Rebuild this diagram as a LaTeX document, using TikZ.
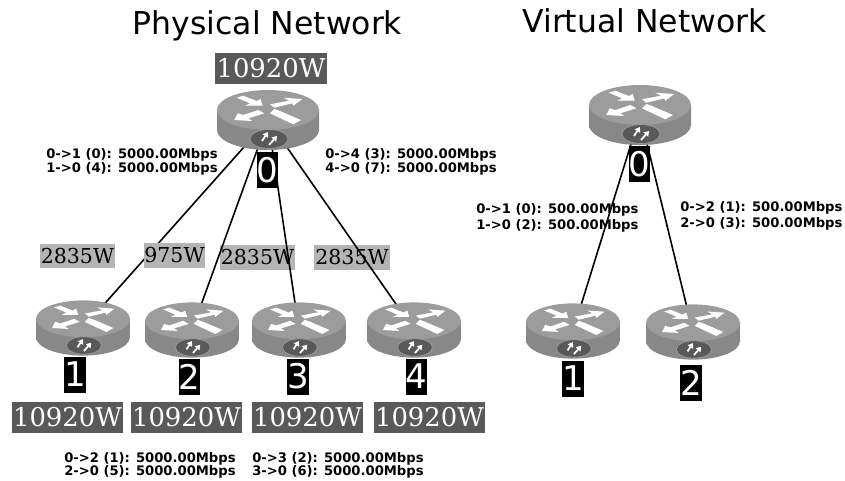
\documentclass[tikz,border=0pt]{standalone}
\usepackage{xcolor}
\usepackage{fontspec}
\usepackage{tikz}
\usetikzlibrary{arrows.meta}
\setmainfont{DejaVu Sans}
\newfontfamily\wattfont{DejaVu Serif}

\definecolor{routertop}{HTML}{9C9C9C}
\definecolor{routerside}{HTML}{6C6C6C}
\definecolor{routeredge}{HTML}{888888}
\definecolor{routerbadge}{HTML}{595959}
\definecolor{nodepower}{HTML}{595959}
\definecolor{linkpower}{HTML}{B4B4B4}

\tikzset{
  hub/.style={circle, inner sep=0pt, minimum size=0pt},
  titletext/.style={font=\fontsize{23.6}{28}\selectfont, inner sep=0pt},
  rate/.style={font=\fontsize{9.85}{10.5}\bfseries\selectfont, align=left, anchor=west, inner sep=0pt},
  nodewatt/.style={fill=nodepower, text=white, font=\wattfont\fontsize{19.4}{22}\selectfont, minimum width=83.5pt, minimum height=23pt, inner sep=0pt},
  linkwatt/.style={fill=linkpower, text=black, font=\wattfont\fontsize{15.4}{18}\selectfont, minimum height=18.5pt, inner sep=0pt},
  routerid/.style={fill=black, text=white, font=\fontsize{25.5}{30}\selectfont, minimum width=15.5pt, minimum height=27pt, inner sep=0pt},
  linkline/.style={draw=black, line width=1.2pt},
  badgetwo/.style={draw=white, line width=1.3pt, -{Triangle[width=4.6pt,length=3.6pt]}},
  routericon/.pic={
    % Body and lid
    \path[left color=routeredge, middle color=routerside, right color=routeredge]
      (-51,10) arc[start angle=180, end angle=0, x radius=51, y radius=20] -- (51,-10) -- (-51,-10) -- cycle;
    \fill[routertop] (0,-10) ellipse[x radius=51, y radius=20];
    % Arrows on the lid
    \fill[white] (-31.3,-22.3) -- (-24.7,-24.3) -- (-11.3,-19) -- (-7.3,-21) -- (-5.3,-14.3) -- (-23,-14.3) -- (-18,-16.7) -- cycle;
    \fill[white] (34.3,-21) -- (15.3,-22.3) -- (21,-19.3) -- (2,-15.7) -- (6.3,-12.3) -- (24.3,-16.7) -- (25.3,-14.3) -- cycle;
    \fill[white] (-33.7,0) -- (-30.3,-6.7) -- (-24.7,-5) -- (-9.7,-10) -- (-3.7,-6.7) -- (-19.7,-1.7) -- (-15.7,1) -- cycle;
    \fill[white] (2,-6.7) -- (6.3,-11) -- (12,-9) -- (33,0) -- (25.3,4.3) -- (7,-4.3) -- (10.3,-2.7) -- cycle;
    % Badge
    \draw[fill=routerbadge, draw=routertop, line width=0.5pt] (1,19) ellipse[x radius=19, y radius=9.5];
    \draw[badgetwo] (-6,21) -- (0,12);
    \draw[badgetwo] (1,25) -- (9,16);
  }
}

\begin{document}
\begin{tikzpicture}[x=0.75pt, y=-0.75pt]
  \useasboundingbox (0,0) rectangle (845,480);

  % Titles
  \node[titletext] (physicaltitle) at (267.5,26) {Physical Network};
  \node[titletext] (virtualtitle) at (644.5,21) {Virtual Network};

  % Link power behind the lines
  \node[linkwatt, minimum width=56.5pt] (watt01) at (77.5,256) {2835W};
  \node[linkwatt, minimum width=56.5pt] (watt02) at (257.5,257.5) {2835W};
  \node[linkwatt, minimum width=56.5pt] (watt03) at (352,257.5) {2835W};

  % Rates
  \node[rate] (rate01) at (46,162) {0->1 (0): 5000.00Mbps\\1->0 (4): 5000.00Mbps};
  \node[rate] (rate04) at (325,162) {0->4 (3): 5000.00Mbps\\4->0 (7): 5000.00Mbps};
  \node[rate] (rate02) at (64,465) {0->2 (1): 5000.00Mbps\\[-0.75pt]2->0 (5): 5000.00Mbps};
  \node[rate] (rate03) at (252,465) {0->3 (2): 5000.00Mbps\\[-0.75pt]3->0 (6): 5000.00Mbps};
  \node[rate] (vrate01) at (476,218) {0->1 (0): 500.00Mbps\\[1.5pt]1->0 (2): 500.00Mbps};
  \node[rate] (vrate02) at (680,216) {0->2 (1): 500.00Mbps\\[1.5pt]2->0 (3): 500.00Mbps};

  % Router positions
  \node[hub] (r0) at (268,120) {};
  \node[hub] (r1) at (83,328) {};
  \node[hub] (r2) at (192,330) {};
  \node[hub] (r3) at (299,330) {};
  \node[hub] (r4) at (414,330) {};
  \node[hub] (v0) at (640,115) {};
  \node[hub] (v1) at (573,331) {};
  \node[hub] (v2) at (693,332) {};

  % Links
  \draw[linkline] (r0) -- (r1);
  \draw[linkline] (r0) -- (r2);
  \draw[linkline] (r0) -- (r3);
  \draw[linkline] (r0) -- (r4);
  \draw[linkline] (v0) -- (v1);
  \draw[linkline] (v0) -- (v2);

  % Routers
  \pic at (r0) {routericon};
  \pic[scale=0.92] at (r1) {routericon};
  \pic[scale=0.92] at (r2) {routericon};
  \pic[scale=0.92] at (r3) {routericon};
  \pic[scale=0.92] at (r4) {routericon};
  \pic at (v0) {routericon};
  \pic[scale=0.92] at (v1) {routericon};
  \pic[scale=0.92] at (v2) {routericon};

  % Router numbers
  \node[routerid] (id0) at (267.5,170) {0};
  \node[routerid] (id1) at (75,374.5) {1};
  \node[routerid] (id2) at (189.5,376.5) {2};
  \node[routerid] (id3) at (298,376.5) {3};
  \node[routerid] (id4) at (416.5,376.5) {4};
  \node[routerid] (vid0) at (639.5,164) {0};
  \node[routerid] (vid1) at (573,378.5) {1};
  \node[routerid] (vid2) at (691,382.5) {2};

  % Node power
  \node[nodewatt] (power0) at (271,68.5) {10920W};
  \node[nodewatt] (power1) at (67.5,417.5) {10920W};
  \node[nodewatt] (power2) at (186.5,417.5) {10920W};
  \node[nodewatt] (power3) at (307.5,417.5) {10920W};
  \node[nodewatt] (power4) at (429.5,417.5) {10920W};

  % This one sits over its line
  \node[linkwatt, minimum width=46pt] (wattmid) at (174.5,255.5) {975W};
\end{tikzpicture}
\end{document}
